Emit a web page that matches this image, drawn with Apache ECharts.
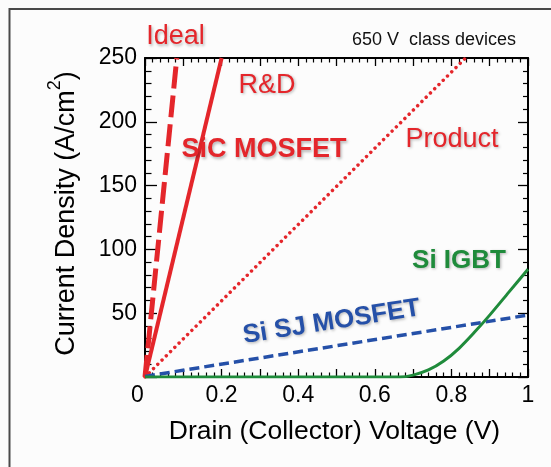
<!DOCTYPE html>
<html>
<head>
<meta charset="utf-8">
<script src="https://cdn.jsdelivr.net/npm/echarts@6/dist/echarts.min.js"></script>
<style>
html,body{margin:0;padding:0;background:#fcfcfc;}
#c{width:551px;height:467px;}
</style>
</head>
<body>
<div id="c"></div>
<script>
// ---- data ----
var idealLine   = [[0, 0], [0.083, 250]];
var rdLine      = [[0, 0], [0.2, 250]];
var productLine = [[0, 0], [0.837, 250]];
var sjMosfet    = [[0, 0.5], [1, 48.5]];
var siIgbtX     = [0, 0.666, 0.70, 0.74, 0.78, 0.82, 0.86, 0.90, 0.95, 1.0];
var siIgbtY     = [0, 0, 1.5, 5.5, 12.5, 22.5, 35, 48.5, 66.5, 84.5];
var xTicks = [0, 0.2, 0.4, 0.6, 0.8, 1];
var yTicks = [50, 100, 150, 200, 250];

var FONT = "'Liberation Sans', Arial, sans-serif";
var RED = '#e4262b', BLUE = '#2550a8', GREEN = '#1f8b3b';

var igbt = siIgbtX.map(function (x, i) { return [x, siIgbtY[i]]; });

function fmtX(v) {
  for (var i = 0; i < xTicks.length; i++) {
    if (Math.abs(v - xTicks[i]) < 1e-6) {
      if (xTicks[i] === 0) return '{z|0}';
      return String(xTicks[i]);
    }
  }
  return '';
}
function fmtY(v) {
  for (var i = 0; i < yTicks.length; i++) if (Math.abs(v - yTicks[i]) < 1e-6) return String(yTicks[i]);
  return '';
}

var tickCommon = {
  axisLine: {show: true, onZero: false, lineStyle: {color: '#000', width: 2}},
  splitLine: {show: false},
  minorSplitLine: {show: false}
};

var chart = echarts.init(document.getElementById('c'), null, {renderer: 'canvas'});
var shadow = {textShadowColor: 'rgba(0,0,0,0.28)', textShadowBlur: 3, textShadowOffsetX: 1.2, textShadowOffsetY: 1.2};
function label(text, x, y, color, size, weight, rot) {
  var st = {
    text: text, x: 0, y: 0, fill: color,
    font: (weight || 'normal') + ' ' + size + 'px ' + FONT,
    align: 'center', verticalAlign: 'middle', textAlign: 'center', textVerticalAlign: 'middle'
  };
  for (var k in shadow) st[k] = shadow[k];
  return {type: 'text', x: x, y: y, rotation: rot || 0, z: 50, style: st};
}

chart.setOption({
  animation: false,
  backgroundColor: '#fcfcfc',
  grid: {left: 145, top: 58, width: 383, height: 319, containLabel: false},
  xAxis: [
    Object.assign({}, tickCommon, {
      type: 'value', position: 'bottom', min: 0, max: 1, interval: 0.1,
      axisTick: {show: true, inside: true, length: 8, lineStyle: {color: '#000', width: 1.3}},
      minorTick: {show: true, splitNumber: 5, length: 4.5, lineStyle: {color: '#000', width: 1.2}},
      axisLabel: {show: true, formatter: fmtX, color: '#000', fontSize: 23, fontFamily: FONT, margin: 7,
        rich: {z: {fontSize: 23, fontFamily: FONT, color: '#000', padding: [0, 15, 0, 0]}}},
      name: 'Drain (Collector) Voltage (V)', nameLocation: 'middle', nameGap: 41,
      nameTextStyle: {color: '#000', fontSize: 26.5, fontFamily: FONT, padding: [0, 4, 0, 0]}
    }),
    Object.assign({}, tickCommon, {
      type: 'value', position: 'top', min: 0, max: 1, interval: 0.1,
      axisTick: {show: true, inside: true, length: 8, lineStyle: {color: '#000', width: 1.3}},
      minorTick: {show: true, splitNumber: 5, length: 4.5, lineStyle: {color: '#000', width: 1.2}},
      axisLabel: {show: false}
    })
  ],
  yAxis: [
    Object.assign({}, tickCommon, {
      type: 'value', position: 'left', min: 0, max: 250, interval: 50,
      axisTick: {show: true, inside: true, length: 12, lineStyle: {color: '#000', width: 1.3}},
      minorTick: {show: true, splitNumber: 5, length: 6.5, lineStyle: {color: '#000', width: 1.2}},
      axisLabel: {show: true, formatter: fmtY, color: '#000', fontSize: 23, fontFamily: FONT, margin: 8},
      name: 'Current Density (A/cm{s|2})', nameLocation: 'middle', nameGap: 53,
      nameTextStyle: {color: '#000', fontSize: 27, fontFamily: FONT, lineHeight: 42, padding: [0, 0, 0, 8],
        rich: {s: {fontSize: 18, fontFamily: FONT, color: '#000', verticalAlign: 'top', lineHeight: 42}}}
    }),
    Object.assign({}, tickCommon, {
      type: 'value', position: 'right', min: 0, max: 250, interval: 50,
      axisTick: {show: true, inside: true, length: 10, lineStyle: {color: '#000', width: 1.3}},
      minorTick: {show: true, splitNumber: 5, length: 5, lineStyle: {color: '#000', width: 1.2}},
      axisLabel: {show: false}
    })
  ],
  series: [
    {type: 'line', name: 'Ideal', data: idealLine, symbol: 'none', z: 3,
      lineStyle: {color: RED, width: 5, type: [22, 7]}},
    {type: 'line', name: 'R&D', data: rdLine, symbol: 'none', z: 3,
      lineStyle: {color: RED, width: 4}},
    {type: 'line', name: 'Product', data: productLine, symbol: 'none', z: 3,
      lineStyle: {color: RED, width: 3.5, type: [0.01, 6], cap: 'round'}},
    {type: 'line', name: 'Si SJ MOSFET', data: sjMosfet, symbol: 'none', z: 3,
      lineStyle: {color: BLUE, width: 3.5, type: [10, 5]}},
    {type: 'line', name: 'Si IGBT', data: igbt, symbol: 'none', smooth: 0.3, z: 4,
      lineStyle: {color: GREEN, width: 3}}
  ],
  graphic: [
    {type: 'rect', z: 0, shape: {x: 9.5, y: 9, width: 560, height: 480},
      style: {fill: 'none', stroke: '#4a4a4a', lineWidth: 2}},
    label('Ideal', 175.5, 37, RED, 27, 'normal'),
    label('R&D', 267, 85.5, RED, 27, 'normal'),
    label('SiC MOSFET', 264, 150, RED, 27, 'bold'),
    label('Product', 452, 139.5, RED, 27, 'normal'),
    label('Si IGBT', 459, 261, GREEN, 26, 'bold'),
    label('Si SJ MOSFET', 331.5, 322, BLUE, 26, 'bold', 9 * Math.PI / 180),
    {type: 'text', x: 434, y: 40.5, z: 50, style: {text: '650 V  class devices', fill: '#111',
      font: 'normal 18px ' + FONT, align: 'center', verticalAlign: 'middle', textAlign: 'center', textVerticalAlign: 'middle'}}
  ]
});
</script>
</body>
</html>
